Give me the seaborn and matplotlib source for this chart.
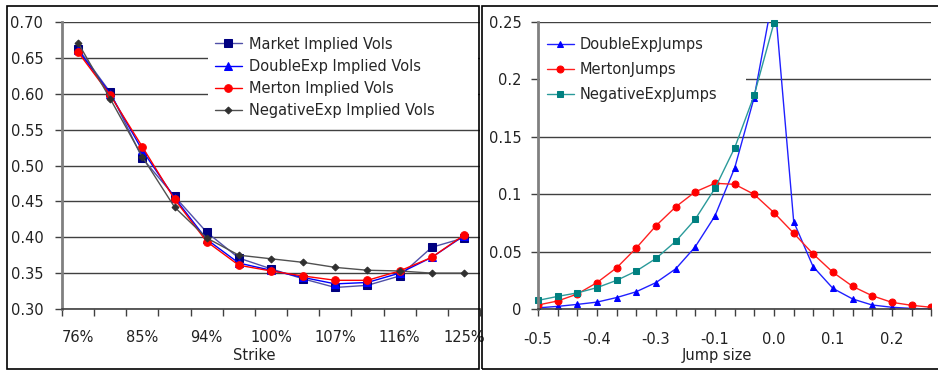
import numpy as np
import pandas as pd
import matplotlib
matplotlib.use("Agg")
import matplotlib.pyplot as plt
import seaborn as sns
from matplotlib.patches import Rectangle

# ---- left chart: implied vols by strike ----
strikes = ["76%", "80%", "85%", "89%", "94%", "97%", "100%",
           "104%", "107%", "111%", "116%", "120%", "125%"]
market_vols = [0.663, 0.602, 0.510, 0.457, 0.407, 0.371, 0.356,
               0.342, 0.330, 0.333, 0.346, 0.386, 0.399]
doubleexp_vols = [0.661, 0.600, 0.521, 0.455, 0.397, 0.364, 0.354,
                  0.344, 0.335, 0.337, 0.350, 0.372, 0.402]
merton_vols = [0.658, 0.598, 0.526, 0.453, 0.394, 0.361, 0.353,
               0.346, 0.340, 0.340, 0.353, 0.372, 0.403]
negexp_vols = [0.671, 0.593, 0.512, 0.442, 0.399, 0.375, 0.370,
               0.365, 0.358, 0.354, 0.353, 0.350, 0.350]
vol_ticks = [0.30, 0.35, 0.40, 0.45, 0.50, 0.55, 0.60, 0.65, 0.70]

# ---- right chart: jump size densities ----
jump_sizes = [-0.500, -0.458, -0.417, -0.375, -0.333, -0.292, -0.250,
              -0.208, -0.167, -0.125, -0.083, -0.042, 0.000, 0.042,
              0.083, 0.125, 0.167, 0.208, 0.250, 0.292, 0.333]
jump_tick_labels = ["-0.5", "-0.4", "-0.3", "-0.1", "0.0", "0.1", "0.2"]
doubleexp_jumps = [0.0010, 0.0023, 0.0040, 0.0060, 0.0100, 0.0150, 0.0230,
                   0.0350, 0.0540, 0.0810, 0.1230, 0.1840, 0.2770, 0.0760,
                   0.0370, 0.0180, 0.0087, 0.0035, 0.0015, 0.0005, 0.0000]
merton_jumps = [0.0035, 0.0070, 0.0130, 0.0230, 0.0360, 0.0530, 0.0725,
                0.0890, 0.1020, 0.1095, 0.1086, 0.0999, 0.0840, 0.0660,
                0.0480, 0.0320, 0.0197, 0.0116, 0.0058, 0.0032, 0.0015]
negexp_jumps = [0.0075, 0.0110, 0.0140, 0.0186, 0.0250, 0.0330, 0.0440,
                0.0590, 0.0780, 0.1050, 0.1405, 0.1860, 0.2490, np.nan,
                np.nan, np.nan, np.nan, np.nan, np.nan, np.nan, np.nan]
dens_ticks = [0, 0.05, 0.1, 0.15, 0.2, 0.25]
dens_tick_labels = ["0", "0.05", "0.1", "0.15", "0.2", "0.25"]

sns.set_style("white")
plt.rcParams["font.family"] = ["DejaVu Sans"]
FS = 10.5

W, H = 938, 371
fig = plt.figure(figsize=(W / 100, H / 100), dpi=100)
ax1 = fig.add_axes([62 / W, 1 - 309 / H, (480 - 62) / W, (309 - 22) / H])
ax2 = fig.add_axes([538 / W, 1 - 309 / H, (931 - 538) / W, (309 - 22) / H])

# outer chart frames
fig.add_artist(Rectangle((7 / W, 1 - 369 / H), (479 - 7) / W, (369 - 6) / H,
                         transform=fig.transFigure, fill=False, ec="black", lw=1.2))
fig.add_artist(Rectangle((482 / W, 1 - 369 / H), (945 - 482) / W, (369 - 6) / H,
                         transform=fig.transFigure, fill=False, ec="black", lw=1.2))

pos = np.arange(len(strikes))
left_series = [
    ("Market Implied Vols", market_vols, "s", "#5050a8", "#000080", 5.5),
    ("DoubleExp Implied Vols", doubleexp_vols, "^", "#0000ff", "#0000ff", 5.5),
    ("Merton Implied Vols", merton_vols, "o", "#ff0000", "#ff0000", 5.5),
    ("NegativeExp Implied Vols", negexp_vols, "D", "#505050", "#303030", 3.5),
]
for name, vals, mk, lc, mc, ms in left_series:
    sns.lineplot(x=pos, y=vals, ax=ax1, color=lc, lw=1, marker=mk, markersize=ms,
                 markerfacecolor=mc, markeredgecolor=mc, label=name)

right_series = [
    ("DoubleExpJumps", doubleexp_jumps, "^", "#2020ff", "#0000ff", 5, True),
    ("MertonJumps", merton_jumps, "o", "#ff2020", "#ff0000", 5, True),
    ("NegativeExpJumps", negexp_jumps, "s", "#2a9a9a", "#008080", 4.5, False),
]
for name, vals, mk, lc, mc, ms, clip in right_series:
    sns.lineplot(x=jump_sizes, y=vals, ax=ax2, color=lc, lw=1, marker=mk, markersize=ms,
                 markerfacecolor=mc, markeredgecolor=mc, label=name, clip_on=clip)

for ax in (ax1, ax2):
    ax.set_facecolor("white")
    for s in ("top", "right"):
        ax.spines[s].set_visible(False)
    ax.spines["left"].set_color("#808080")
    ax.spines["left"].set_linewidth(2)
    ax.spines["bottom"].set_color("#404040")
    ax.spines["bottom"].set_linewidth(1.2)
    ax.yaxis.grid(True, color="#404040", lw=1)
    ax.xaxis.grid(False)
    ax.set_axisbelow(True)
    ax.tick_params(axis="y", which="major", direction="out", length=5, width=1,
                   color="#404040", labelsize=FS, labelcolor="#222222", left=True)

# left axis
ax1.set_xlim(-0.5, len(strikes) - 0.5)
ax1.set_ylim(0.30, 0.70)
ax1.set_yticks(vol_ticks)
ax1.set_yticklabels([f"{v:.2f}" for v in vol_ticks])
ax1.tick_params(axis="y", pad=8.5)
ax1.set_xticks(pos[::2])
ax1.set_xticklabels(strikes[::2])
ax1.set_xticks(np.arange(-0.5, len(strikes), 1), minor=True)
ax1.tick_params(axis="x", which="major", length=0, pad=15, labelsize=FS, labelcolor="#222222")
ax1.tick_params(axis="x", which="minor", direction="out", length=5, width=1,
                color="#404040", bottom=True)
ax1.set_xlabel("Strike", fontsize=FS, color="#222222", labelpad=2)
ax1.xaxis.set_label_coords(0.46, -0.135)

# right axis
ax2.set_xlim(jump_sizes[0], jump_sizes[-1])
ax2.set_ylim(0, 0.25)
ax2.set_yticks(dens_ticks)
ax2.set_yticklabels(dens_tick_labels)
ax2.tick_params(axis="y", pad=7)
ax2.set_xticks(jump_sizes)
ax2.set_xticklabels([jump_tick_labels[i // 3] if i % 3 == 0 else ""
                     for i in range(len(jump_sizes))])
ax2.tick_params(axis="x", which="major", direction="out", length=5, width=1,
                color="#404040", pad=11.5, labelsize=FS, labelcolor="#222222", bottom=True)
ax2.set_xlabel("Jump size", fontsize=FS, color="#222222", labelpad=2)
ax2.xaxis.set_label_coords(0.455, -0.135)

# legends (white box hides the gridlines behind it, no border)
leg1 = ax1.legend(loc="upper left", mode="expand",
                  bbox_to_anchor=(208 / W, 1 - 128 / H, (478 - 208) / W, (128 - 30) / H),
                  bbox_transform=fig.transFigure, fontsize=FS, frameon=True,
                  fancybox=False, borderaxespad=0, borderpad=0.45,
                  handlelength=1.9, handletextpad=0.45, labelspacing=0.5)
leg1.get_frame().set_facecolor("white")
leg1.get_frame().set_edgecolor("none")
leg1.get_frame().set_alpha(1)

leg2 = ax2.legend(loc="upper left", mode="expand",
                  bbox_to_anchor=(540 / W, 1 - 112 / H, (746 - 540) / W, (112 - 30) / H),
                  bbox_transform=fig.transFigure, fontsize=FS, frameon=True,
                  fancybox=False, borderaxespad=0, borderpad=0.5,
                  handlelength=1.8, handletextpad=0.4, labelspacing=0.68)
leg2.get_frame().set_facecolor("white")
leg2.get_frame().set_edgecolor("none")
leg2.get_frame().set_alpha(1)

fig.savefig("out.png", dpi=100)
